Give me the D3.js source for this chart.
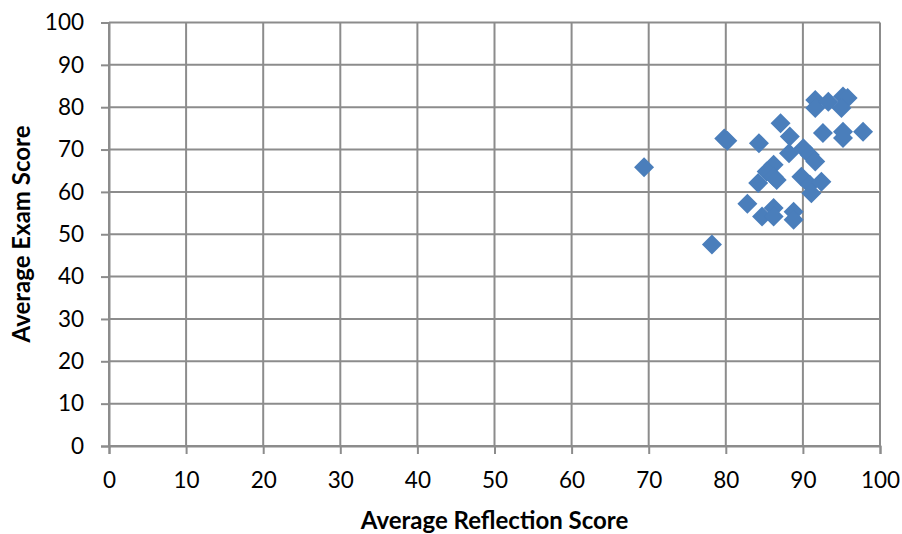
<!DOCTYPE html>
<html><head><meta charset="utf-8">
<script src="https://cdn.jsdelivr.net/npm/d3@7"></script>
<style>body{margin:0;background:#fff}svg{display:block}</style>
</head><body>
<script>
const reflection = [69.4, 78.2, 79.8, 80.2, 84.3, 87.1, 88.3, 88.2, 90.05, 90.9, 91.6, 86.2, 85.3, 86.2, 84.2, 86.6, 89.8, 90.9, 92.4, 91.1, 82.8, 84.7, 86.2, 86.2, 88.8, 88.8, 91.6, 91.6, 93.3, 95.2, 95.8, 95.0, 92.6, 95.2, 95.2, 97.8];
const exam = [65.8, 47.6, 72.6, 72.1, 71.5, 76.2, 73.1, 69.1, 70.3, 68.7, 67.2, 66.4, 64.8, 63.6, 62.1, 62.8, 63.6, 61.7, 62.4, 59.7, 57.2, 54.2, 56.2, 54.2, 55.3, 53.4, 81.7, 79.8, 81.3, 82.5, 82.2, 79.8, 73.9, 74.2, 72.7, 74.2];
const xTicks = [0,10,20,30,40,50,60,70,80,90,100];
const yTicks = [0,10,20,30,40,50,60,70,80,90,100];
const xTitle = "Average Reflection Score";
const yTitle = "Average Exam Score";

const W = 902, H = 534;
const svg = d3.select("body").append("svg").attr("width", W).attr("height", H);
const x = d3.scaleLinear().domain([0,100]).range([109, 880]);
const y = d3.scaleLinear().domain([0,100]).range([446, 22.5]);
const grid = "#8c8c8c";
const font = "Lato, 'Open Sans', sans-serif";

// gridlines
svg.append("g").selectAll("line").data(xTicks).join("line")
  .attr("x1", d=>x(d)).attr("x2", d=>x(d)).attr("y1", y(100)).attr("y2", y(0))
  .attr("stroke", grid).attr("stroke-width", 2);
svg.append("g").selectAll("line").data(yTicks).join("line")
  .attr("x1", x(0)).attr("x2", x(100)).attr("y1", d=>y(d)).attr("y2", d=>y(d))
  .attr("stroke", grid).attr("stroke-width", 2);

const xAxis = svg.append("g").attr("transform", `translate(0,${y(0)})`)
  .call(d3.axisBottom(x).tickValues(xTicks).tickSize(8).tickPadding(18));
const yAxis = svg.append("g").attr("transform", `translate(${x(0)},0)`)
  .call(d3.axisLeft(y).tickValues(yTicks).tickSize(8).tickPadding(17));
[xAxis, yAxis].forEach(g => {
  g.select(".domain").attr("stroke", grid).attr("stroke-width", 2);
  g.selectAll(".tick line").attr("stroke", grid).attr("stroke-width", 2);
  g.selectAll("text").attr("fill", "#000").style("font-family", font).style("font-size", "22.5px");
});

// points
const r = 10;
svg.append("g").selectAll("path").data(reflection.map((v,i)=>[v, exam[i]])).join("path")
  .attr("d", d => `M${x(d[0])},${y(d[1])-r}L${x(d[0])+r},${y(d[1])}L${x(d[0])},${y(d[1])+r}L${x(d[0])-r},${y(d[1])}Z`)
  .attr("fill", "#4A7EBB");

svg.append("text").attr("x", (x(0)+x(100))/2 + 0).attr("y", 529)
  .attr("text-anchor", "middle").style("font-family", font).style("font-size", "24px").style("font-weight", "bold")
  .text(xTitle);
svg.append("text").attr("transform", `translate(30,234) rotate(-90)`)
  .attr("text-anchor", "middle").style("font-family", font).style("font-size", "24px").style("font-weight", "bold")
  .text(yTitle);
</script>
</body></html>
